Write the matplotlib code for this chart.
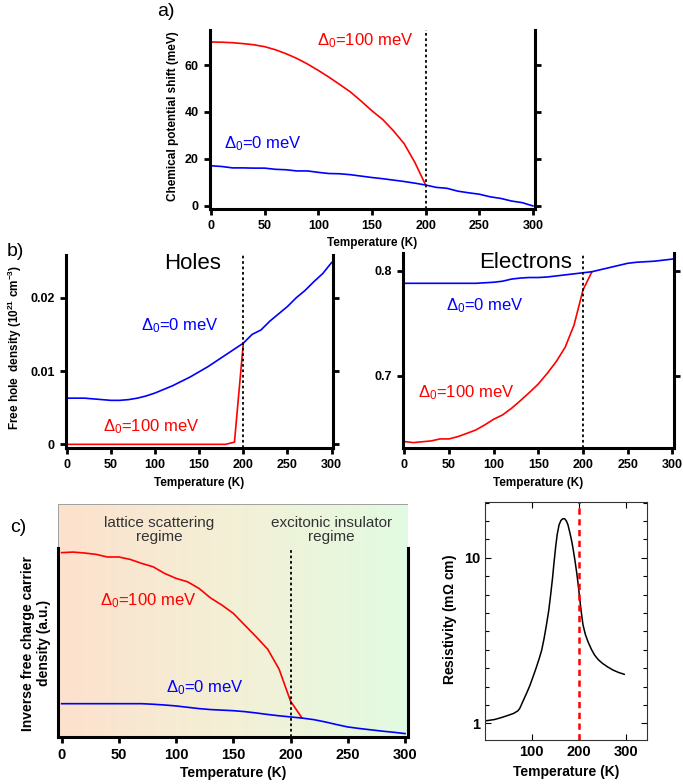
import numpy as np
import matplotlib
matplotlib.use('Agg')
import matplotlib.pyplot as plt
from matplotlib.patches import Rectangle
from matplotlib.ticker import FixedLocator, NullFormatter

plt.rcParams['font.family'] = ['Liberation Sans', 'DejaVu Sans']
plt.rcParams['mathtext.fontset'] = 'custom'
plt.rcParams['mathtext.rm'] = 'Liberation Sans'
plt.rcParams['mathtext.it'] = 'Liberation Sans:italic'
plt.rcParams['mathtext.bf'] = 'Liberation Sans:bold'
plt.rcParams['mathtext.default'] = 'regular'

RED = '#ff0000'
BLUE = '#0000ff'

# ---- data ----
T = list(range(0, 310, 10))

# a) chemical potential shift (meV)
mu_d0 = [17.1, 16.8, 16.2, 16.2, 16.1, 16.1, 15.6, 15.4, 14.9, 14.9, 14.3,
         13.8, 13.7, 13.3, 12.7, 12.1, 11.6, 11.0, 10.4, 9.7, 8.9,
         7.9, 7.5, 6.3, 5.6, 5.0, 3.9, 3.2, 2.1, 1.4, 0.0]
mu_d100 = [69.8, 69.7, 69.5, 69.1, 68.6, 67.8, 66.5, 64.8, 62.8, 60.4, 57.7,
           54.8, 51.7, 48.5, 44.6, 40.5, 36.8, 32.0, 26.5, 18.5, 8.9]

# b) free hole density (1e21 cm^-3)
holes_d0 = [0.0063, 0.0063, 0.0063, 0.0062, 0.0061, 0.0060, 0.0060, 0.0061,
            0.0063, 0.0066, 0.0070, 0.0075, 0.0080, 0.0086, 0.0092, 0.0099,
            0.0106, 0.0114, 0.0122, 0.0130, 0.0138, 0.0150, 0.0156, 0.0168,
            0.0178, 0.0188, 0.0200, 0.0210, 0.0222, 0.0233, 0.0248]
holes_d100 = [0.0] * 19 + [0.0003, 0.0138]

# b) electrons
elec_d0 = [0.788, 0.788, 0.788, 0.788, 0.788, 0.788, 0.788, 0.788, 0.788,
           0.7885, 0.789, 0.790, 0.792, 0.793, 0.7935, 0.7935, 0.794, 0.795,
           0.796, 0.797, 0.798, 0.799, 0.801, 0.803, 0.805, 0.807, 0.808,
           0.8085, 0.809, 0.810, 0.811]
elec_d100 = [0.6377, 0.6367, 0.6375, 0.6383, 0.6402, 0.6402, 0.6424, 0.6455,
             0.6487, 0.6535, 0.6589, 0.6630, 0.6693, 0.6766, 0.6843, 0.6924,
             0.7025, 0.7136, 0.7272, 0.7484, 0.7816, 0.799]

# c) inverse free charge carrier density (a.u.)
inv_d0 = [0.176, 0.176, 0.176, 0.176, 0.176, 0.176, 0.176, 0.176, 0.173,
          0.169, 0.164, 0.157, 0.150, 0.145, 0.142, 0.139, 0.134, 0.127,
          0.119, 0.112, 0.106, 0.100, 0.092, 0.080, 0.066, 0.053, 0.045,
          0.038, 0.031, 0.025, 0.018]
inv_d100 = [0.974, 0.977, 0.972, 0.965, 0.951, 0.951, 0.938, 0.917, 0.899,
            0.864, 0.838, 0.820, 0.785, 0.735, 0.697, 0.653, 0.591, 0.529,
            0.464, 0.358, 0.189, 0.1005]

# resistivity (mOhm cm)
T_rho = [1, 20, 33, 50, 61, 70, 74, 82, 90, 96, 103, 110, 116, 121, 126, 131,
         136, 140, 144, 147, 151, 154, 158, 162, 166, 170, 174, 177, 181, 185,
         188, 192, 196, 199, 202, 205, 209, 214, 220, 227, 234, 242, 251, 262,
         273, 285, 297]
rho = [1.036, 1.055, 1.08, 1.12, 1.149, 1.19, 1.23, 1.38, 1.55, 1.70, 1.93,
       2.2, 2.48, 2.77, 3.25, 3.92, 4.8, 5.95, 7.5, 9.2, 11.8, 13.8, 15.8,
       16.8, 17.2, 17.2, 16.6, 15.8, 14.2, 12.6, 11.3, 9.6, 8.0, 6.8, 5.7,
       4.8, 3.95, 3.45, 3.10, 2.80, 2.58, 2.42, 2.30, 2.19, 2.10, 2.03, 1.98]

T_ticks = [0, 50, 100, 150, 200, 250, 300]
lbl0 = r'$\Delta_0$=0 meV'
lbl100 = r'$\Delta_0$=100 meV'

fig = plt.figure(figsize=(6.83, 7.84), dpi=100)
W, H = 683.0, 784.0


def add_ax(x0, y0, x1, y1):
    return fig.add_axes([x0 / W, 1 - y1 / H, (x1 - x0) / W, (y1 - y0) / H])


def style_thick(ax, labelsize=9):
    ax.spines['top'].set_visible(False)
    for s in ['left', 'right', 'bottom']:
        ax.spines[s].set_linewidth(2.2)
    ax.tick_params(direction='out', length=4, width=2, labelsize=labelsize,
                   right=True, labelright=False, pad=4)
    for lab in ax.get_xticklabels() + ax.get_yticklabels():
        lab.set_fontweight('bold')


def set_labels(ax, xl, yl, xpos, ypos, size=9):
    ax.set_xlabel(xl, fontweight='bold', fontsize=size)
    ax.xaxis.set_label_coords(0.5, xpos)
    ax.xaxis.label.set_verticalalignment('center')
    if yl:
        ax.set_ylabel(yl, fontweight='bold', fontsize=size)
        ax.yaxis.set_label_coords(ypos[0], ypos[1])
        ax.yaxis.label.set_verticalalignment('center')


# ---- a) ----
ax = add_ax(210, 30, 535, 209)
ax.plot(T[:len(mu_d100)], mu_d100, color=RED, lw=1.2)
ax.plot(T, mu_d0, color=BLUE, lw=1.2)
ax.axvline(200, color='black', ls=(0, (1.5, 1.5)), lw=1.3)
ax.set_xlim(-0.9, 301.9)
ax.set_ylim(-1.3, 74.9)
ax.set_xticks(T_ticks)
ax.set_yticks([0, 20, 40, 60])
style_thick(ax)
set_labels(ax, 'Temperature (K)', 'Chemical potential shift (meV)',
           -0.19, (-0.114, 0.52), size=8.5)
ax.text(143.5, 70.2, lbl100, color=RED, fontsize=12, ha='center', va='center')
ax.text(48, 26.4, lbl0, color=BLUE, fontsize=12, ha='center', va='center')

# ---- b) holes ----
ax = add_ax(66, 255, 333, 448)
ax.plot(T[:len(holes_d100)], holes_d100, color=RED, lw=1.2)
ax.plot(T, holes_d0, color=BLUE, lw=1.2)
ax.axvline(200, color='black', ls=(0, (1.5, 1.5)), lw=1.3)
ax.set_xlim(-0.8, 301.6)
ax.set_ylim(-0.0005, 0.02583)
ax.set_xticks(T_ticks)
ax.set_yticks([0, 0.01, 0.02])
ax.set_yticklabels(['0', '0.01', '0.02'])
style_thick(ax)
set_labels(ax, 'Temperature (K)',
           r'Free hole  density (10$^{21}$ cm$^{-3}$)',
           -0.181, (-0.191, 0.52), size=8.5)
ax.text(142.5, 0.02473, 'Holes', fontsize=16, ha='center', va='center')
ax.text(128.5, 0.01617, lbl0, color=BLUE, fontsize=12, ha='center', va='center')
ax.text(95.5, 0.00236, lbl100, color=RED, fontsize=12, ha='center', va='center')

# ---- b) electrons ----
ax = add_ax(403, 253.3, 674, 448.3)
ax.plot(T[:len(elec_d100)], elec_d100, color=RED, lw=1.2)
ax.plot(T, elec_d0, color=BLUE, lw=1.2)
ax.axvline(200, color='black', ls=(0, (1.5, 1.5)), lw=1.3)
ax.set_xlim(-1.5, 301.9)
ax.set_ylim(0.6313, 0.8165)
ax.set_xticks(T_ticks)
ax.set_yticks([0.7, 0.8])
style_thick(ax)
set_labels(ax, 'Temperature (K)', None, -0.178, None, size=8.5)
ax.text(136, 0.8073, 'Electrons', fontsize=16, ha='center', va='center')
ax.text(90, 0.7665, lbl0, color=BLUE, fontsize=12, ha='center', va='center')
ax.text(69, 0.6839, lbl100, color=RED, fontsize=12, ha='center', va='center')

# ---- c) ----
ax = add_ax(58, 504, 408, 737)
xlim_c = (-3.2, 302.6)
ylim_c = (0, 1.231)
c_left = np.array([253, 225, 205]) / 255.0
c_mid = np.array([243, 240, 214]) / 255.0
c_right = np.array([226, 251, 226]) / 255.0
f = np.linspace(0, 1, 256)[:, None]
grad = np.where(f < 0.5, c_left + (c_mid - c_left) * (f / 0.5),
                c_mid + (c_right - c_mid) * ((f - 0.5) / 0.5))
ax.imshow(grad[None, :, :], extent=(xlim_c[0], xlim_c[1], ylim_c[0], ylim_c[1]),
          aspect='auto', zorder=0, interpolation='bilinear')
ax.add_patch(Rectangle((0, 0), 1, 1, transform=ax.transAxes, fill=False,
                       edgecolor='#a0a0a0', lw=0.7, zorder=1))
ax.plot(T[:len(inv_d100)], inv_d100, color=RED, lw=1.2, zorder=3)
ax.plot(T, inv_d0, color=BLUE, lw=1.2, zorder=3)
ax.plot([200, 200], [0, 1.0], color='black', ls=(0, (1.5, 1.5)), lw=1.3, zorder=3)
ax.set_xlim(*xlim_c)
ax.set_ylim(*ylim_c)
ax.spines['top'].set_visible(False)
for s in ['left', 'right', 'bottom']:
    ax.spines[s].set_linewidth(2.2)
    ax.spines[s].set_zorder(4)
ax.spines['left'].set_bounds(0, 1.0)
ax.spines['right'].set_bounds(0, 1.0)
ax.set_yticks([])
ax.set_xticks(T_ticks)
ax.tick_params(axis='x', direction='out', length=4, width=2, labelsize=10.5, pad=4)
for lab in ax.get_xticklabels():
    lab.set_fontweight('bold')
set_labels(ax, 'Temperature (K)',
           'Inverse free charge carrier\ndensity (a.u.)',
           -0.155, (-0.063, 0.403), size=10)
ax.text(85, 1.093, 'lattice scattering\nregime', fontsize=11, color='#333333',
        ha='center', va='center', linespacing=1.05)
ax.text(236, 1.093, 'excitonic insulator\nregime', fontsize=11, color='#333333',
        ha='center', va='center', linespacing=1.05)
ax.text(76, 0.723, lbl100, color=RED, fontsize=12, ha='center', va='center')
ax.text(125.6, 0.26, lbl0, color=BLUE, fontsize=12, ha='center', va='center')

# ---- resistivity ----
ax = add_ax(485, 501.7, 646.7, 740)
ax.plot(T_rho, rho, color='black', lw=1.1)
ax.axvline(200, color=RED, ls=(0, (2.5, 1.8)), lw=1.8)
ax.set_yscale('log')
ax.set_xlim(0, 345)
ax.set_ylim(0.794, 21.8)
ax.set_xticks([100, 200, 300])
ax.yaxis.set_major_locator(FixedLocator([1, 10]))
ax.yaxis.set_minor_locator(FixedLocator([10 ** (k / 9.0) for k in range(-1, 13)]))
ax.yaxis.set_minor_formatter(NullFormatter())
ax.set_yticklabels(['1', '10'])
for s in ax.spines.values():
    s.set_linewidth(0.8)
    s.set_color('#333333')
ax.tick_params(which='both', direction='in', top=True, right=True, width=0.8,
               labelsize=10.5)
ax.tick_params(which='major', length=4)
ax.tick_params(which='minor', length=3)
for lab in ax.get_xticklabels() + ax.get_yticklabels():
    lab.set_fontweight('bold')
set_labels(ax, 'Temperature (K)', r'Resistivity (m$\Omega$ cm)',
           -0.134, (-0.216, 0.504), size=10)

# panel letters
fig.text(166 / W, 1 - 12 / H, 'a)', fontsize=14, ha='center', va='center')
fig.text(15 / W, 1 - 252 / H, 'b)', fontsize=14, ha='center', va='center')
fig.text(18 / W, 1 - 528 / H, 'c)', fontsize=14, ha='center', va='center')

fig.savefig('out.png', dpi=100)
